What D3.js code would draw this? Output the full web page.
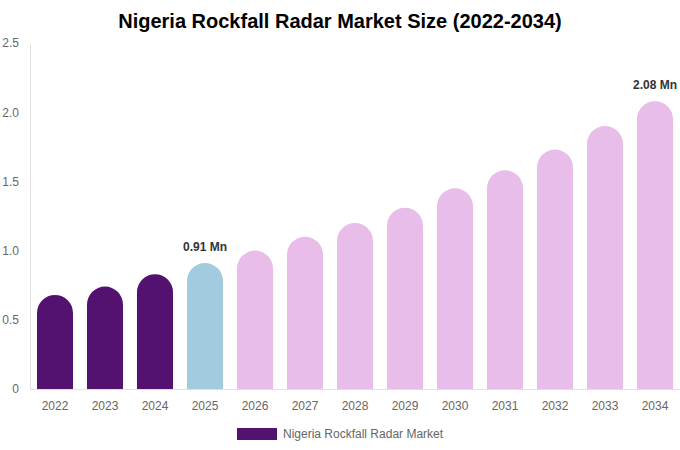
<!DOCTYPE html>
<html>
<head>
<meta charset="utf-8">
<script src="https://cdn.jsdelivr.net/npm/d3@7"></script>
<style>
  body { margin: 0; background: #fff; }
  svg { font-family: "Liberation Sans", Arial, sans-serif; }
</style>
</head>
<body>
<svg id="chart" width="680" height="450"></svg>
<script>
    'use strict';

    // data
    var years = ["2022", "2023", "2024", "2025", "2026", "2027", "2028", "2029", "2030", "2031", "2032", "2033", "2034"];
    var values = [0.68, 0.74, 0.83, 0.91, 1.0, 1.1, 1.2, 1.31, 1.45, 1.58, 1.73, 1.9, 2.08];
    var yTicks = [0, 0.5, 1.0, 1.5, 2.0, 2.5];
    var labelled = {"2025": "0.91 Mn", "2034": "2.08 Mn"};

    var histColor = "#541270";
    var baseColor = "#a3cbe0";
    var forecastColor = "#e8bde9";

    var svg = d3.select("#chart");
    // plot box (note: "top" is taken by window.top)
    var plotLeft = 30, plotRight = 680, plotTop = 43, plotBottom = 389;

    var x = d3.scaleBand().domain(years).range([plotLeft, plotRight]).paddingInner(0.28).paddingOuter(0.14);
    var y = d3.scaleLinear().domain([0, 2.5]).range([plotBottom, plotTop]);

    svg.append("text")
        .attr("x", 340).attr("y", 28)
        .attr("text-anchor", "middle")
        .style("font-size", "20px").style("font-weight", "bold").style("fill", "#000")
        .text("Nigeria Rockfall Radar Market Size (2022-2034)");

    // y axis
    var yAxis = svg.append("g")
        .attr("transform", "translate(" + plotLeft + ",0)")
        .call(d3.axisLeft(y).tickValues(yTicks).tickSize(0).tickPadding(11)
            .tickFormat(function (d) { return d === 0 ? "0" : d3.format(".1f")(d); }));
    yAxis.attr("font-family", null);
    yAxis.select(".domain").attr("stroke", "#e0e0e0");
    yAxis.selectAll("text").style("font-size", "12px").style("fill", "#666");

    // x axis
    var xAxis = svg.append("g")
        .attr("transform", "translate(0," + plotBottom + ")")
        .call(d3.axisBottom(x).tickSize(0).tickPadding(12));
    xAxis.attr("font-family", null);
    xAxis.select(".domain").attr("stroke", "#e0e0e0");
    xAxis.selectAll("text").style("font-size", "12px").style("fill", "#666");

    function barPath(d, i) {
        var x0 = x(years[i]), w = x.bandwidth(), r = w / 2;
        var yt = y(d), yb = y(0);
        return "M" + x0 + "," + yb +
            "L" + x0 + "," + (yt + r) +
            "A" + r + "," + r + " 0 0 1 " + (x0 + w) + "," + (yt + r) +
            "L" + (x0 + w) + "," + yb + "Z";
    }

    function colorFor(i) {
        var yr = +years[i];
        if (yr < 2025) return histColor;
        if (yr === 2025) return baseColor;
        return forecastColor;
    }

    svg.append("g").selectAll("path")
        .data(values)
        .join("path")
        .attr("d", barPath)
        .attr("fill", function (d, i) { return colorFor(i); });

    var labelIdx = years.map(function (yr, i) { return i; }).filter(function (i) { return labelled[years[i]]; });
    svg.append("g").selectAll("text")
        .data(labelIdx)
        .join("text")
        .attr("x", function (i) { return x(years[i]) + x.bandwidth() / 2; })
        .attr("y", function (i) { return y(values[i]) - 12; })
        .attr("text-anchor", "middle")
        .style("font-size", "12px").style("font-weight", "bold").style("fill", "#333")
        .text(function (i) { return labelled[years[i]]; });

    // legend
    var legend = svg.append("g").attr("transform", "translate(237,428)");
    legend.append("rect").attr("width", 40).attr("height", 12).attr("fill", histColor);
    legend.append("text").attr("x", 46).attr("y", 10)
        .style("font-size", "12px").style("fill", "#666")
        .text("Nigeria Rockfall Radar Market");
</script>
</body>
</html>
